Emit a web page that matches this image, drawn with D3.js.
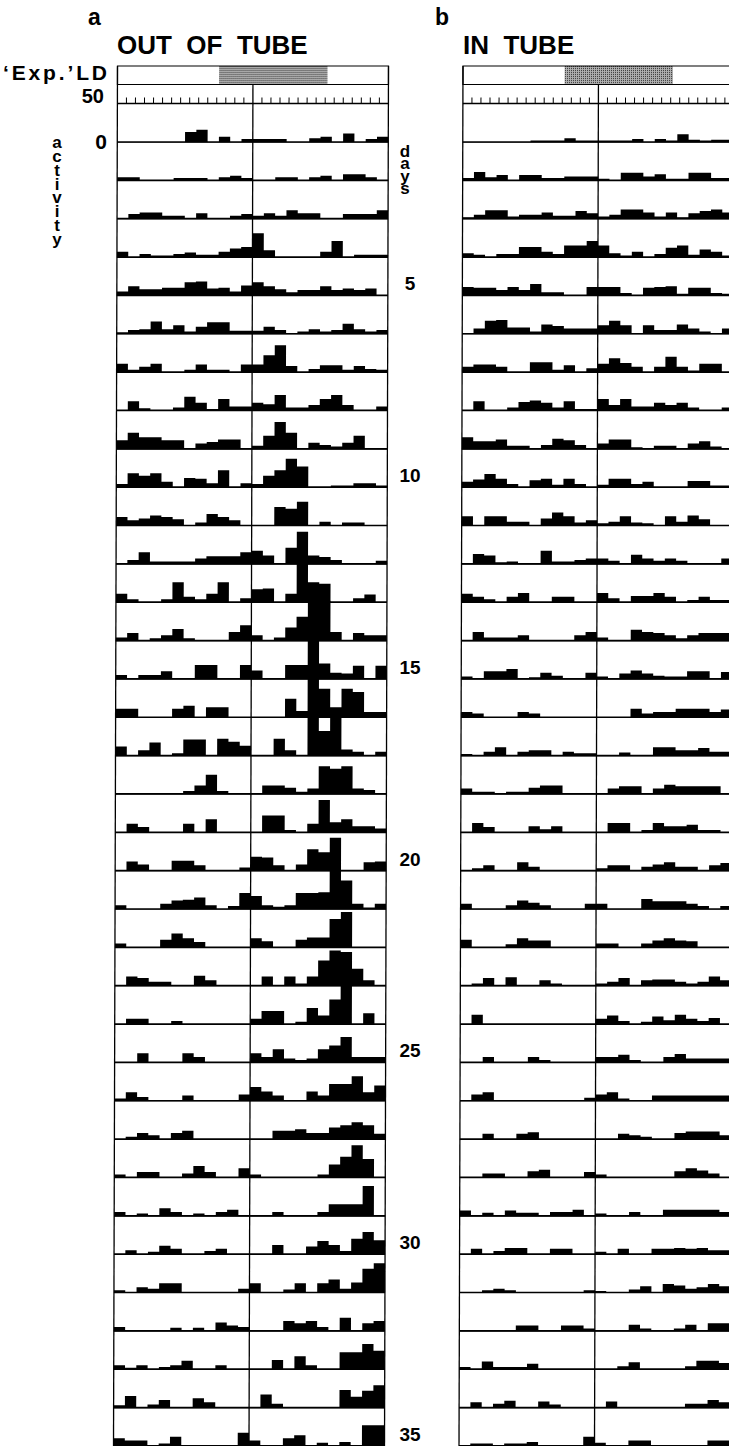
<!DOCTYPE html>
<html>
<head>
<meta charset="utf-8">
<title>Actogram: out of tube / in tube</title>
<script src="https://d3js.org/d3.v7.min.js"></script>
<style>
  body { margin: 0; background: #fff; }
  text { font-family: "Liberation Sans", Arial, sans-serif; font-weight: bold; fill: #000; }
</style>
</head>
<body>
<svg id="chart" width="729" height="1446"></svg>
<script>

// activity counts per bin, 24 bins per day, one row per day
const outOfTube = [
  [0,0,0,0,0,0,13,16,0,7,0,4, 4,4,4,0,0,5,7,0,11,0,4,7],
  [4,4,0,0,0,3,3,3,0,4,6,3, 0,0,4,4,0,4,6,0,8,8,4,0],
  [0,6,8,8,4,4,0,7,0,0,4,6, 4,7,4,11,7,7,0,0,6,6,6,11],
  [7,0,4,2,2,4,6,3,3,7,11,13, 31,9,0,0,0,0,7,21,0,3,3,3],
  [5,12,8,8,10,10,17,18,9,10,5,13, 17,12,8,4,7,7,12,7,9,7,9,0],
  [2,5,6,16,6,11,3,9,15,15,4,4, 4,9,5,0,3,6,3,5,13,6,3,5],
  [11,3,7,11,0,0,3,10,3,3,0,10, 10,22,35,8,0,4,9,9,3,8,4,3],
  [0,12,3,0,0,4,18,10,2,15,5,5, 10,8,20,4,4,7,15,20,7,0,0,5],
  [11,21,15,15,11,11,0,7,9,12,12,0, 4,17,35,21,0,8,5,3,8,17,0,0],
  [4,18,15,18,7,0,12,11,5,22,0,5, 4,15,22,37,27,0,0,2,2,5,5,2],
  [11,7,9,13,11,8,0,4,15,11,7,0, 0,0,24,22,31,0,5,0,4,4,0,0],
  [0,5,15,3,3,3,3,7,10,10,10,15, 17,11,0,21,42,11,9,5,0,0,0,4],
  [11,4,0,0,4,26,7,4,11,26,0,5, 17,18,0,11,52,26,24,0,0,5,10,0],
  [4,10,0,3,7,15,3,0,0,0,11,20, 7,0,4,17,31,55,52,11,0,10,7,7],
  [5,0,5,5,10,0,0,18,18,0,0,18, 11,0,0,18,18,55,20,8,7,17,0,17],
  [11,11,0,0,0,11,15,0,13,13,0,0, 0,0,0,24,8,55,37,13,37,33,7,7],
  [12,0,7,17,0,3,21,21,0,22,18,13, 0,0,22,7,0,52,32,50,8,5,0,5],
  [0,0,0,0,0,0,4,11,25,4,0,0, 0,11,11,8,3,7,36,33,36,7,5,0],
  [0,11,7,0,0,0,11,0,17,0,0,0, 0,22,22,3,0,11,42,13,17,8,8,5],
  [0,12,8,0,0,13,13,7,0,0,0,4, 18,17,7,0,8,28,24,43,0,0,11,12],
  [5,0,0,0,7,11,12,15,5,0,4,21, 17,5,3,5,21,21,22,52,37,7,2,7],
  [5,0,0,0,10,18,12,7,0,0,0,0, 12,8,0,0,10,13,13,37,46,0,0,0],
  [0,12,10,5,5,0,0,13,7,0,0,0, 0,12,0,12,3,12,33,46,44,22,7,0],
  [0,7,7,0,0,4,0,0,0,0,0,0, 7,17,17,0,3,21,11,32,51,0,14,0],
  [0,0,12,0,0,0,12,7,0,0,0,0, 12,7,17,5,3,5,17,22,33,7,7,7],
  [3,11,5,0,0,0,7,0,0,0,0,8, 18,12,7,0,0,12,7,22,22,32,11,20],
  [0,3,8,5,0,8,11,0,0,0,0,0, 0,0,11,11,13,8,8,15,18,22,18,7],
  [4,0,7,7,0,0,5,15,7,0,0,12, 4,0,0,0,0,0,4,17,27,42,24,0],
  [5,0,3,0,10,5,0,3,0,5,8,0, 0,0,5,0,0,0,5,15,15,15,39,0],
  [0,5,0,3,11,7,0,0,4,7,0,0, 0,0,12,0,0,10,17,12,4,20,29,18],
  [3,0,7,5,12,12,0,0,0,0,0,5, 12,0,0,4,12,0,12,17,5,13,31,38],
  [5,0,0,0,0,4,0,4,0,11,7,5, 0,0,0,13,10,13,5,0,17,0,10,13],
  [5,2,5,0,3,5,11,0,0,5,0,0, 0,0,12,0,17,5,0,0,22,22,33,24],
  [3,15,0,4,10,0,0,12,7,0,0,0, 0,17,5,0,0,0,0,0,23,14,22,29],
  [10,7,7,0,3,12,0,0,0,0,0,17, 7,0,0,10,14,0,4,0,5,0,27,27]
];

const inTube = [
  [0,0,0,0,0,0,2,2,2,5,2,2, 2,2,2,4,0,4,2,10,3,2,3,3],
  [3,11,4,7,0,7,7,3,3,5,5,5, 2,0,10,10,5,8,2,2,10,10,3,3],
  [2,5,11,11,3,5,5,8,4,4,10,7, 3,5,12,12,8,3,8,2,7,10,12,8],
  [5,3,0,4,4,13,13,7,4,15,15,21, 15,5,2,7,0,4,12,15,3,10,7,2],
  [11,10,10,7,11,7,15,4,4,0,0,11, 11,11,3,0,10,11,12,2,10,10,3,2],
  [0,7,17,18,8,8,3,12,10,7,7,7, 11,17,11,0,11,5,5,12,7,3,0,7],
  [7,10,10,7,0,0,13,13,3,9,0,5, 11,18,12,7,0,7,20,7,2,11,11,0],
  [0,12,0,0,4,11,13,10,4,12,2,2, 15,7,15,5,5,10,7,10,4,0,0,4],
  [15,10,10,12,4,4,0,5,13,11,5,0, 7,12,12,2,0,4,4,0,7,10,3,0],
  [7,10,17,11,4,0,9,11,3,11,4,0, 3,11,11,4,7,0,0,0,8,8,2,2],
  [12,0,12,12,5,5,0,9,17,12,4,7, 3,5,12,4,3,0,12,5,13,8,0,0],
  [0,13,11,2,3,0,0,17,3,3,5,7, 7,4,0,12,7,4,7,4,0,0,0,7],
  [11,7,4,0,7,12,0,0,7,7,0,0, 12,5,0,8,8,12,7,0,3,7,3,3],
  [0,11,4,4,4,7,0,0,0,0,7,11, 4,0,0,14,11,10,7,3,7,10,10,10],
  [3,0,10,10,13,0,2,8,4,0,0,8, 3,0,7,11,7,4,3,3,10,10,0,9],
  [7,5,0,0,0,7,5,0,0,0,0,0, 0,0,0,11,5,7,7,11,11,11,7,10],
  [2,0,5,11,0,5,7,7,0,5,3,3, 0,0,4,0,0,11,11,7,7,10,5,5],
  [7,3,3,0,3,3,8,11,11,0,0,0, 0,7,10,10,0,7,12,10,10,10,10,0],
  [0,12,7,0,0,0,8,4,8,0,0,0, 0,12,12,0,3,12,8,8,10,3,3,0],
  [0,3,7,0,0,11,5,0,0,0,0,0, 3,7,7,0,5,8,11,5,5,0,7,10],
  [7,0,0,0,5,11,8,5,0,0,0,7, 7,0,0,0,13,10,10,10,7,4,0,4],
  [10,0,0,0,4,12,9,9,0,0,0,0, 5,5,0,0,5,9,12,9,8,0,0,0],
  [0,3,10,0,11,0,0,7,3,0,0,0, 3,5,10,0,7,8,8,5,3,5,12,7],
  [0,12,0,0,0,0,0,0,0,0,0,0, 7,11,4,0,3,10,5,12,7,4,8,0],
  [0,0,7,0,0,0,7,3,0,0,0,0, 7,7,10,3,0,0,7,11,5,5,5,5],
  [0,8,11,0,0,0,0,0,0,0,0,4, 8,11,3,0,0,7,7,7,7,7,7,7],
  [0,0,7,0,0,7,9,0,0,0,0,0, 0,0,7,5,3,0,0,8,10,10,10,5],
  [0,0,5,5,0,0,8,10,0,0,0,7, 4,0,0,0,0,0,0,8,12,9,5,0],
  [7,0,4,0,7,4,4,0,5,5,8,0, 3,0,0,5,0,0,8,8,8,8,8,5],
  [0,7,0,4,8,8,0,0,7,7,0,0, 3,0,7,0,0,7,7,8,7,8,5,5],
  [0,0,3,5,3,0,0,0,0,0,0,3, 2,0,0,4,8,0,11,9,5,7,11,8],
  [0,0,0,0,0,7,7,0,0,7,7,3, 0,0,0,8,3,0,0,3,8,0,10,10],
  [3,0,10,3,3,3,7,0,0,0,0,0, 0,0,4,9,0,0,0,0,4,11,11,8],
  [0,7,0,5,9,0,0,8,4,0,0,0, 0,8,0,0,0,0,0,0,5,5,10,7],
  [0,3,3,0,3,3,5,0,0,0,0,12, 4,0,0,7,7,0,0,0,0,0,7,7]
];

const dayTicks = [5, 10, 15, 20, 25, 30, 35];
const darkPhase = [9, 18.6];   // 'Exp.' LD dark part, in bins
const nBins = 24;
const nTicks = 30;

const svg = d3.select("#chart");
const W = 271, topY = 66, ldH = 18.5, scaleRowBottom = 103.5, bottomY = 1446;

const x = d3.scaleLinear().domain([0, nBins]).range([0, W]);
const tickX = d3.scaleLinear().domain([0, nTicks]).range([0, W]);
const yDay = d3.scaleLinear().domain([1, 35]).range([142, 1445.9]);
const hAct = d3.scaleLinear().domain([0, 50]).range([0, 38.35]);

// step outline of one day's histogram
const dayArea = d3.area()
  .curve(d3.curveStepAfter)
  .x((d, i) => x(i))
  .y0(0.6)
  .y1(d => -hAct(d));

// halftone for the dark phase
const pat = svg.append("defs").append("pattern")
  .attr("id", "stipple").attr("width", 2).attr("height", 2)
  .attr("patternUnits", "userSpaceOnUse");
pat.append("rect").attr("width", 2).attr("height", 2).attr("fill", "#b0b0b0");
pat.append("rect").attr("width", 1).attr("height", 1).attr("fill", "#333");

function drawPanel(data, x0) {
  // the scan leans a little, so the whole panel gets a slight skew
  const g = svg.append("g")
    .attr("transform", `translate(${x0},${topY}) skewX(-0.166)`);
  const Y = v => v - topY;

  // LD bar
  g.append("rect")
    .attr("x", x(darkPhase[0])).attr("y", 0)
    .attr("width", x(darkPhase[1]) - x(darkPhase[0])).attr("height", ldH)
    .attr("fill", "url(#stipple)");
  g.append("rect")
    .attr("x", 0).attr("y", 0).attr("width", W).attr("height", ldH)
    .attr("fill", "none").attr("stroke", "#000").attr("stroke-width", 1.2);

  // scale row with ticks
  g.append("line").attr("x1", 0).attr("x2", W)
    .attr("y1", Y(scaleRowBottom)).attr("y2", Y(scaleRowBottom))
    .attr("stroke", "#000").attr("stroke-width", 1.3);
  g.selectAll("line.tick")
    .data(d3.range(1, nTicks).filter(t => t !== nTicks / 2))
    .join("line").attr("class", "tick")
    .attr("x1", d => tickX(d)).attr("x2", d => tickX(d))
    .attr("y1", Y(scaleRowBottom) - 6).attr("y2", Y(scaleRowBottom))
    .attr("stroke", "#000").attr("stroke-width", 1);

  // frame
  [0, W].forEach(xx => {
    g.append("line").attr("x1", xx).attr("x2", xx)
      .attr("y1", 0).attr("y2", Y(bottomY))
      .attr("stroke", "#000").attr("stroke-width", 1.3);
  });
  g.append("line").attr("x1", x(12)).attr("x2", x(12))
    .attr("y1", ldH).attr("y2", Y(bottomY))
    .attr("stroke", "#000").attr("stroke-width", 1.3);

  // one row per day
  const rows = g.selectAll("g.day").data(data).join("g")
    .attr("class", "day")
    .attr("transform", (d, i) => `translate(0,${Y(yDay(i + 1))})`);

  rows.append("path")
    .attr("d", d => dayArea(d.concat([d[d.length - 1]])))
    .attr("fill", "#000");

  rows.append("line")
    .attr("x1", 0).attr("x2", W).attr("y1", 0).attr("y2", 0)
    .attr("stroke", "#000").attr("stroke-width", 1.7);
}

drawPanel(outOfTube, 117.5);
drawPanel(inTube, 463);

// labels
svg.append("text").attr("x", 88).attr("y", 25).attr("font-size", 23).text("a");
svg.append("text").attr("x", 435).attr("y", 25).attr("font-size", 23).text("b");
svg.append("text").attr("x", 117).attr("y", 54).attr("font-size", 26)
  .style("white-space", "pre").text("OUT  OF  TUBE");
svg.append("text").attr("x", 463).attr("y", 54).attr("font-size", 26)
  .style("white-space", "pre").text("IN  TUBE");
svg.append("text").attr("x", 3).attr("y", 80).attr("font-size", 21)
  .attr("textLength", 104).attr("lengthAdjust", "spacing")
  .text("\u2018Exp.\u2019LD");
svg.append("text").attr("x", 104).attr("y", 103).attr("font-size", 20)
  .attr("text-anchor", "end").text("50");
svg.append("text").attr("x", 107).attr("y", 149).attr("font-size", 21)
  .attr("text-anchor", "end").text("0");

// words written top to bottom with upright letters
function stacked(word, cx, yTop, len, size) {
  svg.append("text")
    .attr("x", cx).attr("y", yTop)
    .attr("font-size", size)
    .attr("textLength", len).attr("lengthAdjust", "spacing")
    .style("writing-mode", "vertical-rl")
    .style("text-orientation", "upright")
    .text(word);
}
stacked("activity", 57, 133, 116, 17);
stacked("days", 405, 142, 56, 17);

svg.append("g").selectAll("text").data(dayTicks).join("text")
  .attr("x", 410).attr("y", d => yDay(d) - 5)
  .attr("text-anchor", "middle").attr("font-size", 19)
  .text(d => d);

</script>
</body>
</html>
